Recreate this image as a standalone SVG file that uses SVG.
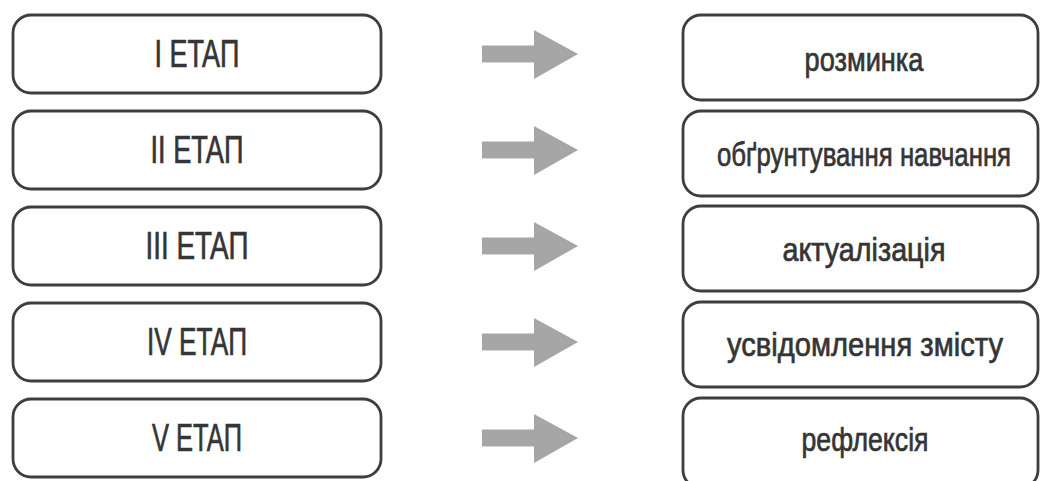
<svg xmlns="http://www.w3.org/2000/svg" width="1042" height="481" viewBox="0 0 1042 481">
<defs>
<style>
.box{fill:#fff;stroke:#3e3e3e;stroke-width:2.8}
.t{font-family:"Liberation Sans",Arial,sans-serif;fill:#353535;stroke:#353535;stroke-width:0.7;text-anchor:middle}
.l{font-size:38px}
.r{font-size:33px}
.arr{fill:#a6a6a6}
</style>
<path id="ar" d="M0,-8.5 H52 V-24 L96,0 L52,25 V8.5 H0 Z"/>
</defs>
<rect width="1042" height="481" fill="#fff"/>
<g id="stage1"><rect class="box" x="13" y="15" width="368" height="78" rx="18"/><text class="t l" x="197" y="67" textLength="85" lengthAdjust="spacingAndGlyphs">I ETAП</text></g>
<g id="stage2"><rect class="box" x="13" y="111" width="368" height="78" rx="18"/><text class="t l" x="197" y="163" textLength="93" lengthAdjust="spacingAndGlyphs">II ETAП</text></g>
<g id="stage3"><rect class="box" x="13" y="207" width="368" height="78" rx="18"/><text class="t l" x="197" y="259" textLength="103" lengthAdjust="spacingAndGlyphs">III ETAП</text></g>
<g id="stage4"><rect class="box" x="13" y="303" width="368" height="78" rx="18"/><text class="t l" x="197" y="355" textLength="100" lengthAdjust="spacingAndGlyphs">IV ETAП</text></g>
<g id="stage5"><rect class="box" x="13" y="399" width="368" height="78" rx="18"/><text class="t l" x="197" y="451" textLength="90" lengthAdjust="spacingAndGlyphs">V ETAП</text></g>
<g id="connectors">
<use href="#ar" class="arr" x="482" y="54"/>
<use href="#ar" class="arr" x="482" y="150"/>
<use href="#ar" class="arr" x="482" y="246"/>
<use href="#ar" class="arr" x="482" y="342"/>
<use href="#ar" class="arr" x="482" y="438"/>
</g>
<g id="step1"><rect class="box" x="683" y="15" width="355" height="85" rx="18"/><text class="t r" x="864" y="71" textLength="119" lengthAdjust="spacingAndGlyphs">розминка</text></g>
<g id="step2"><rect class="box" x="683" y="111" width="355" height="85" rx="18"/><text class="t r" transform="translate(864 166) scale(0.77 1)" x="0" y="0" textLength="382" lengthAdjust="spacingAndGlyphs">обґрунтування навчання</text></g>
<g id="step3"><rect class="box" x="683" y="206" width="355" height="85" rx="18"/><text class="t r" x="864" y="261" textLength="163" lengthAdjust="spacingAndGlyphs">актуалізація</text></g>
<g id="step4"><rect class="box" x="683" y="302" width="355" height="85" rx="18"/><text class="t r" x="865" y="356" textLength="276" lengthAdjust="spacingAndGlyphs">усвідомлення змісту</text></g>
<g id="step5"><rect class="box" x="683" y="398" width="355" height="90" rx="18"/><text class="t r" x="865" y="451" textLength="127" lengthAdjust="spacingAndGlyphs">рефлексія</text></g>
</svg>
